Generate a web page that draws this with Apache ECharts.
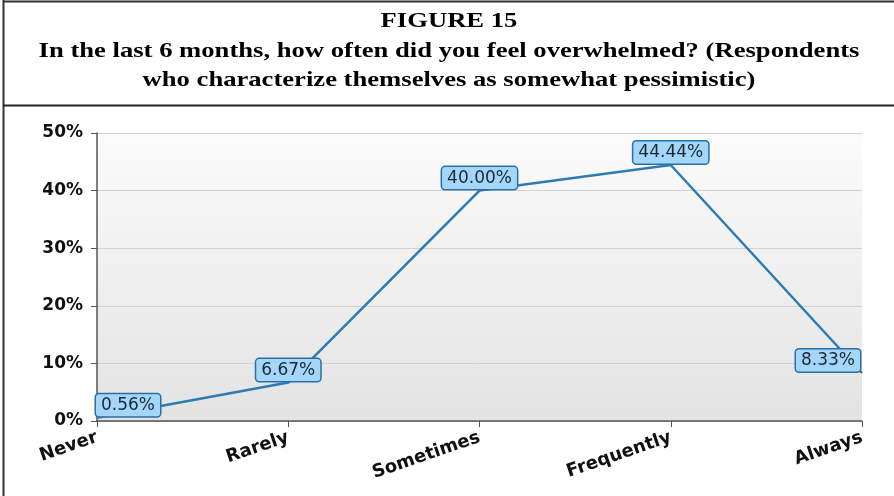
<!DOCTYPE html>
<html>
	<head>
		<meta charset="utf-8" />
		<title>Figure 15</title>
		<style type="text/css">
			body,
			html,
			#chart {
				width: 100%;
				height: 100%;
				overflow: hidden;
				margin: 0;
				background: #fff;
			}
		</style>
	</head>
	<body>
		<div id="chart"></div>
		<script src="https://cdn.jsdelivr.net/npm/echarts@6/dist/echarts.min.js"></script>
		<script>
			// 数据
			var categories = ['Never', 'Rarely', 'Sometimes', 'Frequently', 'Always'];
			var values = [0.56, 6.67, 40.0, 44.44, 8.33];
			var yTicks = [0, 10, 20, 30, 40, 50];
			var titleLines = [
				'FIGURE 15',
				'In the last 6 months, how often did you feel overwhelmed? (Respondents',
				'who characterize themselves as somewhat pessimistic)'
			];

			var dom = document.getElementById('chart');
			var myChart = echarts.init(dom);

			// first and last labels are pushed inside the plot
			var seriesData = values.map(function(v, i) {
				var item = { value: v };
				if (i === 0) item.label = { offset: [31, 0] };
				if (i === values.length - 1) item.label = { offset: [-34, 0] };
				return item;
			});

			var option = {
				animation: false,
				graphic: [
					{ type: 'line', shape: { x1: 3.5, y1: 0, x2: 3.5, y2: 496 }, style: { stroke: '#333', lineWidth: 2 } },
					{ type: 'line', shape: { x1: 3, y1: 1.5, x2: 894, y2: 1.5 }, style: { stroke: '#333', lineWidth: 2 } },
					{ type: 'line', shape: { x1: 3, y1: 105.5, x2: 894, y2: 105.5 }, style: { stroke: '#222', lineWidth: 2 } },
					{
						// title is a bit wider than the plain font, stretch it
						type: 'text',
						x: 449,
						y: 7,
						scaleX: 1.21,
						style: {
							text: titleLines.join('\n'),
							textAlign: 'center',
							textVerticalAlign: 'top',
							fontFamily: 'Liberation Serif',
							fontWeight: 'bold',
							fontSize: 22,
							lineHeight: 29.5,
							fill: '#000'
						}
					}
				],
				grid: {
					left: 97,
					right: 32,
					top: 133,
					bottom: 75,
					show: true,
					borderWidth: 0,
					backgroundColor: new echarts.graphic.LinearGradient(0, 0, 0, 1, [
						{ offset: 0, color: '#fbfbfb' },
						{ offset: 1, color: '#e3e3e3' }
					])
				},
				xAxis: {
					type: 'category',
					data: categories,
					boundaryGap: false,
					axisLine: { lineStyle: { color: '#555', width: 1.5 } },
					axisTick: { show: true, length: 6, lineStyle: { color: '#555' } },
					axisLabel: {
						rotate: 19,
						margin: 16,
						fontFamily: 'DejaVu Sans',
						fontWeight: 'bold',
						fontSize: 18,
						color: '#111'
					}
				},
				yAxis: {
					type: 'value',
					min: yTicks[0],
					max: yTicks[yTicks.length - 1],
					interval: 10,
					axisLine: { show: true, lineStyle: { color: '#555', width: 1.5 } },
					axisTick: { show: true, length: 6, lineStyle: { color: '#555' } },
					splitLine: { lineStyle: { color: '#d2d2d2', width: 1 } },
					axisLabel: {
						margin: 14,
						formatter: '{value}%',
						fontFamily: 'DejaVu Sans',
						fontWeight: 'bold',
						fontSize: 17,
						color: '#111'
					}
				},
				series: [
					{
						type: 'line',
						data: seriesData,
						showSymbol: true,
						symbol: 'circle',
						symbolSize: 1,
						itemStyle: { color: 'transparent', borderWidth: 0 },
						lineStyle: { color: '#2e7ab3', width: 2.5 },
						label: {
							show: true,
							position: 'top',
							distance: 1,
							formatter: function(p) {
								return p.value.toFixed(2) + '%';
							},
							fontFamily: 'DejaVu Sans',
							fontSize: 17,
							color: '#1b2838',
							backgroundColor: '#a3d6f8',
							borderColor: '#2a6fa5',
							borderWidth: 1.5,
							borderRadius: 3,
							padding: [3, 5, 2, 5]
						}
					}
				]
			};
			myChart.setOption(option);
		</script>
	</body>
</html>
